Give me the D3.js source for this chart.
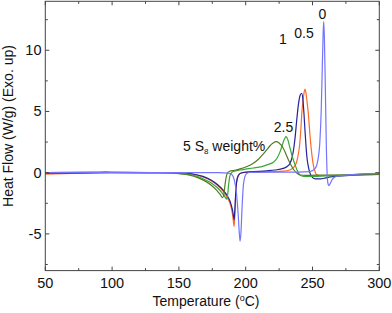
<!DOCTYPE html>
<html>
<head>
<meta charset="utf-8">
<script src="https://cdn.jsdelivr.net/npm/d3@7/dist/d3.min.js"></script>
<style>
  body { margin: 0; background: #fff; }
  svg { display: block; }
  text { font-family: "Liberation Sans", Arial, sans-serif; fill: #111; }
</style>
</head>
<body>
<svg id="chart" width="392" height="313"></svg>
<script>
// ---- data ----
const xTicks = [50, 100, 150, 200, 250, 300];
const yTicks = [-5, 0, 5, 10];

const s0T = [50, 100, 150, 180, 188, 190, 191.5, 193, 194.3, 195.2, 195.8, 196.5, 197.3, 198.2, 199.2, 200.5, 203, 220, 240, 248, 252, 254, 255.5, 256.5, 257.3, 258, 258.4, 258.9, 259.6, 260.3, 261, 261.7, 262.3, 263.2, 264.5, 266.5, 270, 280, 290, 300];
const s0V = [0, 0.02, 0, 0, -0.05, -0.2, -0.6, -1.6, -3.3, -4.9, -5.6, -4.8, -2.8, -1.1, -0.4, -0.1, 0.02, 0.05, 0.05, 0.08, 0.35, 1.0, 2.5, 5.0, 8.5, 11.5, 12.35, 11, 7, 2.5, -0.2, -0.95, -1.05, -0.9, -0.6, -0.38, -0.25, -0.15, -0.08, -0.05];

const s05T = [50, 70, 100, 130, 150, 160, 168, 174, 179, 183, 186, 188.5, 190, 190.8, 191.3, 191.8, 192.4, 193.2, 194.5, 196.5, 200, 210, 220, 228, 233, 236, 237.7, 239, 240.2, 241.2, 242, 243, 243.8, 244.4, 245, 245.8, 246.9, 248, 249.4, 250.5, 251.9, 253.5, 255];
const s05V = [-0.12, -0.05, 0, 0, -0.02, -0.12, -0.35, -0.65, -1.05, -1.5, -2.0, -2.6, -3.3, -4.0, -4.4, -3.6, -2.1, -0.8, -0.25, -0.05, 0.02, 0.05, 0.08, 0.12, 0.22, 0.45, 0.75, 1.3, 2.1, 3.4, 4.85, 6.0, 6.6, 6.82, 6.6, 5.9, 4.8, 3.2, 1.6, 0.7, 0.08, -0.2, -0.22];

const s1T = [50, 100, 150, 160, 168, 174, 179, 183, 186, 188.5, 190, 190.8, 191.3, 191.8, 192.4, 193.2, 194.5, 196.5, 200, 210, 216, 222, 228, 231, 233.2, 234.6, 235.8, 237, 238.2, 239.5, 240.7, 241.9, 242.8, 243.6, 244.4, 245.2, 246, 246.9, 248, 249.4, 252, 256, 260, 265, 275, 290, 300];
const s1V = [-0.05, 0, 0, -0.1, -0.3, -0.6, -0.98, -1.4, -1.85, -2.4, -3.0, -3.5, -3.85, -3.2, -1.9, -0.75, -0.22, -0.03, 0.05, 0.1, 0.15, 0.22, 0.35, 0.5, 0.77, 1.2, 1.85, 2.9, 4.3, 5.6, 6.3, 6.49, 6.0, 4.85, 3.4, 2.1, 1.1, 0.5, 0.0, -0.33, -0.5, -0.5, -0.42, -0.33, -0.25, -0.15, -0.1];

const s25T = [50, 90, 95, 100, 130, 150, 158, 165, 170, 175, 179, 182, 184, 185.2, 185.8, 186.5, 187.2, 188, 189, 191, 198, 205.7, 212, 217, 220.7, 223.5, 225.7, 227.5, 229, 230.2, 231.5, 233.2, 235.2, 237, 238.5, 239.6, 241, 243, 250, 260, 280, 300];
const s25V = [0, 0.03, 0.06, 0.02, 0, -0.05, -0.15, -0.35, -0.6, -0.9, -1.25, -1.6, -1.9, -2.1, -2.17, -1.8, -1.0, -0.35, -0.05, 0.1, 0.25, 0.38, 0.5, 0.68, 0.85, 1.2, 1.7, 2.3, 2.75, 2.94, 2.7, 2.0, 1.2, 0.63, 0.2, -0.05, -0.22, -0.3, -0.3, -0.27, -0.2, -0.15];

const s5T = [50, 100, 140, 150, 158, 164, 169, 174, 178, 181, 182.7, 183.6, 184.4, 185.3, 186.5, 188, 191, 197, 201, 205.7, 209.5, 213.2, 216, 218.2, 220.5, 222.7, 225, 228.1, 230, 232, 234, 235.7, 238, 240.7, 245, 260, 280, 300];
const s5V = [0, 0.02, 0, -0.08, -0.2, -0.4, -0.65, -1.0, -1.4, -1.8, -2.05, -1.8, -1.1, -0.4, 0.0, 0.12, 0.18, 0.35, 0.5, 0.77, 1.1, 1.53, 1.9, 2.2, 2.42, 2.53, 2.42, 2.0, 1.55, 1.04, 0.6, 0.28, 0.0, -0.19, -0.22, -0.2, -0.17, -0.15];

const seriesNames = ["0", "0.5", "1", "2.5", "5"];
const seriesColors = ["#7474ff", "#ff6a2a", "#23239a", "#36a836", "#557a22"];

// ---- chart ----
const svg = d3.select("#chart");
const x = d3.scaleLinear().domain([50, 300]).range([45.3, 379.3]);
const y = d3.scaleLinear().domain([-8, 14]).range([270.6, 1.3]);

const series = [
  {name: "0.5", T: s05T, V: s05V, color: seriesColors[1]},
  {name: "1", T: s1T, V: s1V, color: seriesColors[2]},
  {name: "2.5", T: s25T, V: s25V, color: seriesColors[3]},
  {name: "5", T: s5T, V: s5V, color: seriesColors[4]},
  {name: "0", T: s0T, V: s0V, color: seriesColors[0]}
];

const line = d3.line()
  .x(d => x(d[0])).y(d => y(d[1]))
  .curve(d3.curveMonotoneX);

const plot = svg.append("g");
series.forEach(s => {
  plot.append("path")
    .datum(s.T.map((t, i) => [t, s.V[i]]))
    .attr("d", line)
    .attr("fill", "none")
    .attr("stroke", s.color)
    .attr("stroke-width", 1.2);
});

// frame
const [x0, x1] = x.range();
const [yb, yt] = y.range();
svg.append("rect")
  .attr("x", x0).attr("y", yt)
  .attr("width", x1 - x0).attr("height", yb - yt)
  .attr("fill", "none").attr("stroke", "#444").attr("stroke-width", 1);

// ticks (inward, all four sides)
const xMinor = d3.range(75, 300, 50);
const yMinor = d3.range(-7.5, 14, 5);
const tg = svg.append("g").attr("stroke", "#444").attr("stroke-width", 1);
function xt(v, len) {
  tg.append("line").attr("x1", x(v)).attr("x2", x(v)).attr("y1", yb).attr("y2", yb - len);
  tg.append("line").attr("x1", x(v)).attr("x2", x(v)).attr("y1", yt).attr("y2", yt + len);
}
function ytk(v, len) {
  tg.append("line").attr("y1", y(v)).attr("y2", y(v)).attr("x1", x0).attr("x2", x0 + len);
  tg.append("line").attr("y1", y(v)).attr("y2", y(v)).attr("x1", x1).attr("x2", x1 - len);
}
xTicks.forEach(v => xt(v, 4));
xMinor.forEach(v => xt(v, 2.5));
yTicks.forEach(v => ytk(v, 4));
yMinor.forEach(v => ytk(v, 2.5));

// tick labels
svg.append("g").selectAll("text").data(xTicks).join("text")
  .attr("x", d => x(d)).attr("y", 287.5)
  .attr("text-anchor", "middle").attr("font-size", 14.5)
  .text(d => d);
svg.append("g").selectAll("text").data(yTicks).join("text")
  .attr("x", 41.5).attr("y", d => y(d) + 5)
  .attr("text-anchor", "end").attr("font-size", 14.5)
  .text(d => d);

// axis titles
const xt2 = svg.append("text").attr("x", 206).attr("y", 306)
  .attr("text-anchor", "middle").attr("font-size", 14);
xt2.append("tspan").text("Temperature (");
xt2.append("tspan").attr("font-size", 9).attr("dy", -5).text("o");
xt2.append("tspan").attr("dy", 5).text("C)");

svg.append("text")
  .attr("transform", "translate(12.5,126) rotate(-90)")
  .attr("text-anchor", "middle").attr("font-size", 14)
  .text("Heat Flow (W/g) (Exo. up)");

// curve labels
const labels = [
  {t: "0", x: 322.5, y: 19},
  {t: "0.5", x: 304, y: 38},
  {t: "1", x: 283, y: 44},
  {t: "2.5", x: 283.5, y: 132}
];
svg.append("g").selectAll("text").data(labels).join("text")
  .attr("x", d => d.x).attr("y", d => d.y)
  .attr("text-anchor", "middle").attr("font-size", 14)
  .text(d => d.t);

const l5 = svg.append("text").attr("x", 183).attr("y", 151).attr("font-size", 14);
l5.append("tspan").text("5 S");
l5.append("tspan").attr("font-size", 8).attr("dy", 3).text("8");
l5.append("tspan").attr("dy", -3).text(" weight%");
</script>
</body>
</html>
